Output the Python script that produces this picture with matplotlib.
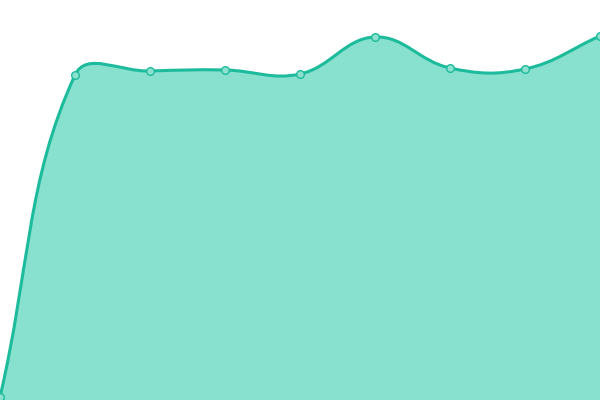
import numpy as np
import matplotlib
matplotlib.use("Agg")
import matplotlib.pyplot as plt
from matplotlib.path import Path
from matplotlib.patches import PathPatch

labels = ["1", "2", "3", "4", "5", "6", "7", "8", "9"]
values = [3, 325, 329, 330, 326, 363, 332, 331, 364]

LINE = "#1cbb9b"
FILL = "#88e0cf"

fig = plt.figure(figsize=(6, 4), dpi=100)
ax = fig.add_axes([0, 0, 1, 1])
n = len(values)
ax.set_xlim(0, n - 1)
ax.set_ylim(0, 400)
ax.axis("off")

# Chart.js style spline (tension 0.4) computed in pixel space
sx = 600 / (n - 1)
pts = np.array([[i * sx, v] for i, v in enumerate(values)], dtype=float)
t = 0.4
cps = []
for i in range(n):
    prev = pts[i - 1] if i > 0 else pts[i]
    cur = pts[i]
    nxt = pts[i + 1] if i < n - 1 else pts[i]
    d01 = np.hypot(*(cur - prev))
    d12 = np.hypot(*(nxt - cur))
    tot = d01 + d12
    s01 = d01 / tot if tot else 0
    s12 = d12 / tot if tot else 0
    fa, fb = t * s01, t * s12
    cps.append((cur - fa * (nxt - prev), cur + fb * (nxt - prev)))

verts = [tuple(pts[0])]
codes = [Path.MOVETO]
for i in range(n - 1):
    verts += [tuple(cps[i][1]), tuple(cps[i + 1][0]), tuple(pts[i + 1])]
    codes += [Path.CURVE4] * 3
verts = [(x / sx, y) for x, y in verts]

fill_verts = verts + [((n - 1), 0), (0, 0), verts[0]]
fill_codes = codes + [Path.LINETO, Path.LINETO, Path.CLOSEPOLY]
ax.add_patch(PathPatch(Path(fill_verts, fill_codes), facecolor=FILL, edgecolor="none"))
ax.add_patch(PathPatch(Path(verts, codes), facecolor="none", edgecolor=LINE, lw=2.2))

ax.plot(range(n), values, "o", ms=5.5, mfc="#8ee0cf", mec=LINE, mew=1, clip_on=True)

fig.savefig("out.png", dpi=100)
